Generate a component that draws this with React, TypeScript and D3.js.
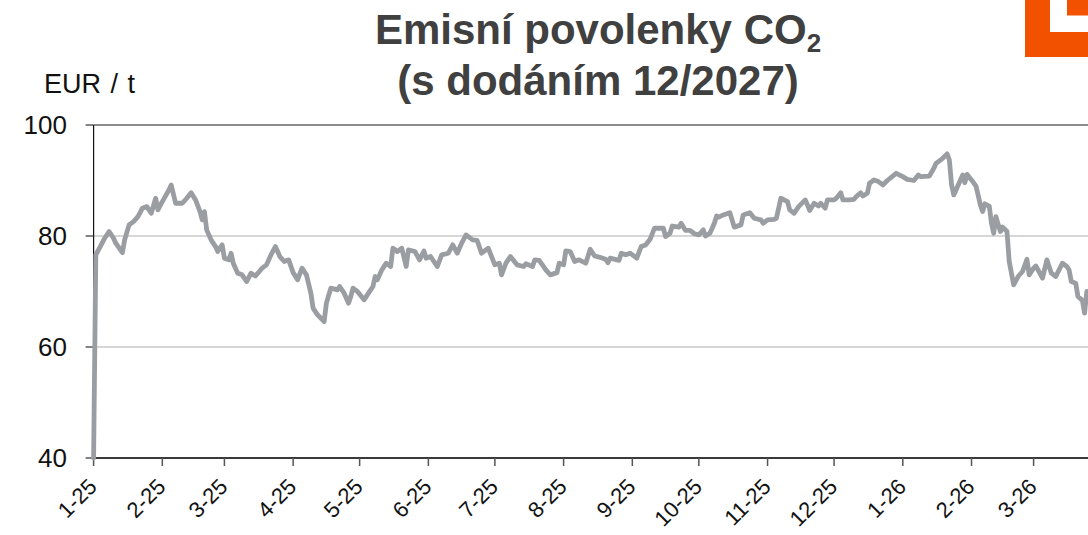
import React from "react";
import * as d3 from "d3";

const dates: string[] = [
  "2025-01-01","2025-01-02","2025-01-04","2025-01-06","2025-01-08","2025-01-10","2025-01-11","2025-01-14","2025-01-15","2025-01-17",
  "2025-01-19","2025-01-21","2025-01-23","2025-01-25","2025-01-27","2025-01-29","2025-01-30","2025-02-01","2025-02-04","2025-02-05",
  "2025-02-07","2025-02-10","2025-02-12","2025-02-14","2025-02-16","2025-02-18","2025-02-19","2025-02-20","2025-02-21","2025-02-23",
  "2025-02-25","2025-02-26","2025-02-28","2025-03-01","2025-03-03","2025-03-04","2025-03-05","2025-03-07","2025-03-09","2025-03-11",
  "2025-03-13","2025-03-15","2025-03-18","2025-03-20","2025-03-22","2025-03-24","2025-03-26","2025-03-28","2025-03-30","2025-04-01",
  "2025-04-03","2025-04-05","2025-04-07","2025-04-09","2025-04-10","2025-04-12","2025-04-15","2025-04-16","2025-04-18","2025-04-21",
  "2025-04-22","2025-04-24","2025-04-26","2025-04-27","2025-04-28","2025-04-30","2025-05-03","2025-05-05","2025-05-07","2025-05-08",
  "2025-05-09","2025-05-11","2025-05-13","2025-05-15","2025-05-16","2025-05-18","2025-05-20","2025-05-22","2025-05-23","2025-05-26",
  "2025-05-28","2025-05-30","2025-05-31","2025-06-02","2025-06-05","2025-06-07","2025-06-10","2025-06-12","2025-06-14","2025-06-16",
  "2025-06-18","2025-06-21","2025-06-23","2025-06-25","2025-06-28","2025-07-01","2025-07-03","2025-07-04","2025-07-06","2025-07-08",
  "2025-07-11","2025-07-14","2025-07-15","2025-07-18","2025-07-19","2025-07-21","2025-07-24","2025-07-26","2025-07-29","2025-07-30",
  "2025-08-01","2025-08-02","2025-08-04","2025-08-06","2025-08-08","2025-08-11","2025-08-13","2025-08-15","2025-08-17","2025-08-20",
  "2025-08-21","2025-08-22","2025-08-26","2025-08-27","2025-08-29","2025-08-31","2025-09-03","2025-09-05","2025-09-07","2025-09-09",
  "2025-09-11","2025-09-13","2025-09-15","2025-09-16","2025-09-18","2025-09-19","2025-09-22","2025-09-23","2025-09-25","2025-09-27",
  "2025-09-29","2025-10-01","2025-10-03","2025-10-04","2025-10-06","2025-10-08","2025-10-09","2025-10-10","2025-10-12","2025-10-15",
  "2025-10-17","2025-10-20","2025-10-21","2025-10-24","2025-10-26","2025-10-29","2025-10-30","2025-11-01","2025-11-04","2025-11-05",
  "2025-11-07","2025-11-10","2025-11-11","2025-11-13","2025-11-15","2025-11-18","2025-11-19","2025-11-20","2025-11-22","2025-11-24",
  "2025-11-25","2025-11-27","2025-11-28","2025-12-01","2025-12-02","2025-12-04","2025-12-05","2025-12-08","2025-12-10","2025-12-11",
  "2025-12-13","2025-12-14","2025-12-16","2025-12-17","2025-12-19","2025-12-21","2025-12-23","2025-12-25","2025-12-29","2026-01-01",
  "2026-01-03","2026-01-06","2026-01-08","2026-01-09","2026-01-13","2026-01-15","2026-01-16","2026-01-19","2026-01-21","2026-01-22",
  "2026-01-23","2026-01-24","2026-01-25","2026-01-28","2026-01-29","2026-01-30","2026-02-01","2026-02-03","2026-02-05","2026-02-06",
  "2026-02-07","2026-02-09","2026-02-10","2026-02-11","2026-02-12","2026-02-14","2026-02-15","2026-02-17","2026-02-18","2026-02-20",
  "2026-02-22","2026-02-24","2026-02-26","2026-02-27","2026-03-01","2026-03-02","2026-03-05","2026-03-07","2026-03-09","2026-03-11",
  "2026-03-14","2026-03-16","2026-03-17","2026-03-18","2026-03-20","2026-03-21","2026-03-23","2026-03-24","2026-03-25",
];

const prices: number[] = [
  40.0,76.6,78.1,79.6,80.8,79.6,78.7,77.0,79.3,82.0,
  82.6,83.5,85.0,85.3,84.1,86.8,84.7,86.2,88.3,89.2,
  85.9,85.9,86.8,87.8,86.5,84.4,82.9,84.4,81.1,79.3,
  78.1,77.2,78.4,76.0,75.7,76.9,75.1,73.3,73.0,71.8,
  73.3,72.8,74.2,74.8,76.6,78.1,76.3,75.4,75.7,73.4,
  72.1,74.2,73.0,69.7,67.0,65.8,64.6,67.9,70.6,70.3,
  70.9,69.7,67.9,69.1,70.6,70.0,68.5,69.7,70.9,72.7,
  72.1,73.9,75.1,74.5,77.8,77.2,77.8,74.5,77.5,77.2,
  75.7,77.3,76.0,76.3,74.5,76.6,76.9,78.4,76.9,78.7,
  80.2,79.3,79.2,76.9,77.8,74.8,75.1,73.0,75.1,76.3,
  74.8,74.5,75.0,74.5,75.7,75.6,73.9,73.0,73.4,75.1,
  74.8,77.3,77.2,75.4,75.7,75.1,77.6,76.4,76.2,75.8,
  75.2,76.0,75.6,76.9,76.6,76.9,76.0,78.1,78.4,79.4,
  81.4,81.4,81.4,79.9,80.5,81.8,81.6,82.3,81.0,81.0,
  80.4,80.2,81.1,80.0,80.5,82.3,83.6,83.4,83.8,84.2,
  81.6,82.0,83.8,84.2,83.2,82.9,82.3,82.9,83.0,83.2,
  86.8,86.2,84.7,84.1,85.3,86.5,85.6,84.6,85.9,85.4,
  85.9,85.0,86.5,86.5,86.8,87.8,86.5,86.5,86.6,87.1,
  87.8,87.2,87.7,89.5,90.1,89.8,89.2,90.0,91.3,90.7,
  90.2,90.0,91.0,90.7,90.8,92.2,93.1,94.0,94.8,93.7,
  89.2,87.4,88.3,91.0,89.6,91.1,90.1,89.0,85.6,84.4,
  85.8,85.4,82.3,80.5,83.5,80.8,81.6,80.8,75.4,71.2,
  72.7,73.6,75.8,73.0,74.2,74.6,72.4,75.7,73.3,72.7,
  75.1,74.5,73.9,71.8,71.5,69.1,68.4,66.1,70.0,
];

const monthTicks: string[] = [
  "2025-01-01","2025-02-01","2025-03-01","2025-04-01","2025-05-01","2025-06-01","2025-07-01","2025-08-01",
  "2025-09-01","2025-10-01","2025-11-01","2025-12-01","2026-01-01","2026-02-01","2026-03-01",
];
const yTicks: number[] = [40, 60, 80, 100];

const titleLine1 = "Emisní povolenky CO";
const titleSub = "2";
const titleLine2 = "(s dodáním 12/2027)";
const unitLabel = "EUR / t";

const W = 1088;
const H = 535;
const FONT = "'Liberation Sans', Arial, Helvetica, sans-serif";

export default function App() {
  const parse = d3.timeParse("%Y-%m-%d");
  const fmt = d3.timeFormat("%-m-%y");
  const data = dates.map((d, i) => ({ date: parse(d) as Date, value: prices[i] }));

  const left = 93.6;
  const x = d3
    .scaleTime()
    .domain([parse("2025-01-01") as Date, parse("2026-03-01") as Date])
    .range([left, 1033.6]);
  const y = d3.scaleLinear().domain([40, 100]).range([458, 125]);

  const line = d3
    .line<{ date: Date; value: number }>()
    .x((d) => x(d.date))
    .y((d) => y(d.value));

  const ticks = monthTicks.map((t) => parse(t) as Date);

  return (
    <svg
      width={W}
      height={H}
      style={{ position: "absolute", left: 0, top: 0, background: "#fff" }}
      fontFamily={FONT}
    >
      <rect x={0} y={0} width={W} height={H} fill="#fff" />
      {/* logo */}
      <rect x={1025} y={0} width={63} height={57} fill="#F25200" />
      <rect x={1050} y={0} width={38} height={32} fill="#fff" />
      <rect x={1067} y={0} width={21} height={15.5} fill="#F25200" />

      {/* title */}
      <text x={598} y={44} textAnchor="middle" fontSize={42} fontWeight="bold" fill="#404040">
        {titleLine1}
        <tspan fontSize={26} dy={8}>{titleSub}</tspan>
      </text>
      <text x={598} y={95} textAnchor="middle" fontSize={42} fontWeight="bold" fill="#404040">
        {titleLine2}
      </text>
      <text x={44} y={93} fontSize={27} wordSpacing={2} fill="#111">{unitLabel}</text>

      {/* gridlines */}
      {yTicks.map((t) => {
        if (t === 40) return null;
        return (
          <line
            key={"g" + t}
            x1={left}
            x2={W}
            y1={y(t)}
            y2={y(t)}
            stroke={t === 100 ? "#8c8c8c" : "#c8c8c8"}
            strokeWidth={t === 100 ? 2.2 : 1.4}
          />
        );
      })}

      {/* y axis */}
      <line x1={left} x2={left} y1={y(100)} y2={y(40)} stroke="#111" strokeWidth={1.2} />
      {yTicks.map((t) => (
        <g key={"y" + t}>
          <line x1={left - 8} x2={left} y1={y(t)} y2={y(t)} stroke="#333" strokeWidth={1.2} />
          <text x={67} y={y(t)} dy="0.36em" textAnchor="end" fontSize={26} fill="#111">
            {t}
          </text>
        </g>
      ))}

      {/* x axis */}
      <line x1={left} x2={W} y1={y(40)} y2={y(40)} stroke="#3a3a3a" strokeWidth={2} />
      {ticks.map((t, i) => (
        <g key={"x" + i}>
          <line x1={x(t)} x2={x(t)} y1={y(40)} y2={y(40) + 8} stroke="#555" strokeWidth={1.5} />
          <text
            transform={`translate(${x(t) + 4.5},${488}) rotate(-45)`}
            textAnchor="end"
            fontSize={22}
            fill="#111"
          >
            {fmt(t)}
          </text>
        </g>
      ))}

      {/* data line */}
      <path
        d={line(data) || ""}
        fill="none"
        stroke="#9a9ea3"
        strokeWidth={4.8}
        strokeLinejoin="round"
        strokeLinecap="round"
      />
    </svg>
  );
}
